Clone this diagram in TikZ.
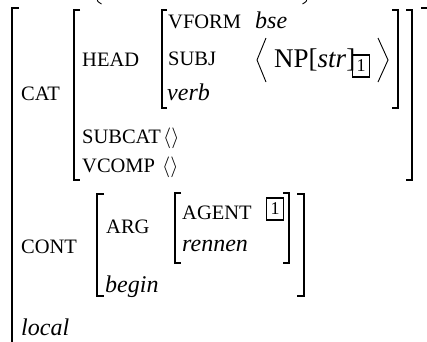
\documentclass[tikz,border=0pt]{standalone}
\usepackage{fontspec}
\setmainfont{Liberation Serif}
\begin{document}
\tikzset{
  br/.style={line width=1.3pt, line cap=butt},
  ang/.style={line width=0.9pt},
  sc/.style={font=\fontsize{20.5}{24}\selectfont, anchor=base west, inner sep=0pt},
  itx/.style={font=\fontsize{24}{28}\selectfont\itshape, anchor=base west, inner sep=0pt},
  big/.style={font=\fontsize{27}{31}\selectfont, anchor=base west, inner sep=0pt},
  tagbox/.style={draw, line width=1.8pt, minimum width=17pt, minimum height=22pt, inner sep=0pt, font=\fontsize{18}{20}\selectfont},
}
\begin{tikzpicture}[x=1pt,y=-1pt]
\useasboundingbox (0,0) rectangle (427,341);
\clip (0,0) rectangle (427,341);
% parentheses of the line above (cut off)
\draw[ang] (96.5,-2) .. controls (97.5,1.5) .. (101.5,4);
\draw[ang] (307.5,-2) .. controls (306.5,1.5) .. (302.5,4);
% outer matrix
\draw[br] (19,8) -- (12,8) -- (12,360);
\draw[br] (421,8) -- (428,8) -- (428,360);
% CAT value
\draw[br] (80,10) -- (74,10) -- (74,180) -- (80,180);
\draw[br] (406,10) -- (412,10) -- (412,180) -- (406,180);
% HEAD value
\draw[br] (167,10) -- (162,10) -- (162,108) -- (167,108);
\draw[br] (392,10) -- (398,10) -- (398,108) -- (392,108);
% CONT value
\draw[br] (104,194) -- (97,194) -- (97,296) -- (104,296);
\draw[br] (297,194) -- (304,194) -- (304,296) -- (297,296);
% ARG value
\draw[br] (181,193) -- (175,193) -- (175,263) -- (181,263);
\draw[br] (283,193) -- (289,193) -- (289,263) -- (283,263);

\node[sc] (cat) at (21,100) {CAT};
\node[sc] (head) at (82,66) {HEAD};
\node[sc] (vform) at (168,28) {VFORM};
\node[itx] (bse) at (255,28) {bse};
\node[sc] (subj) at (168,65) {SUBJ};
\node[itx] (verb) at (167,100) {verb};
\node[big] (np) at (274,67) {NP[\textit{str}]};
\node[tagbox] (tag1) at (361,66) {1};
\draw[ang] (266,38) -- (257,60) -- (266,82);
\draw[ang] (378,38) -- (388,60) -- (378,82);
\node[sc] (subcat) at (82,143) {SUBCAT};
\node[sc] (subcatv) at (163,143) {$\langle\rangle$};
\node[sc] (vcomp) at (82,172) {VCOMP};
\node[sc] (vcompv) at (162,172) {$\langle\rangle$};
\node[sc] (cont) at (21,253) {CONT};
\node[sc] (arg) at (106,233) {ARG};
\node[sc] (agent) at (182,219) {AGENT};
\node[tagbox] (tag2) at (275,209) {1};
\node[itx] (rennen) at (182,251) {rennen};
\node[itx] (begin) at (105,292) {begin};
\node[itx] (local) at (21,335) {local};
\end{tikzpicture}
\end{document}
